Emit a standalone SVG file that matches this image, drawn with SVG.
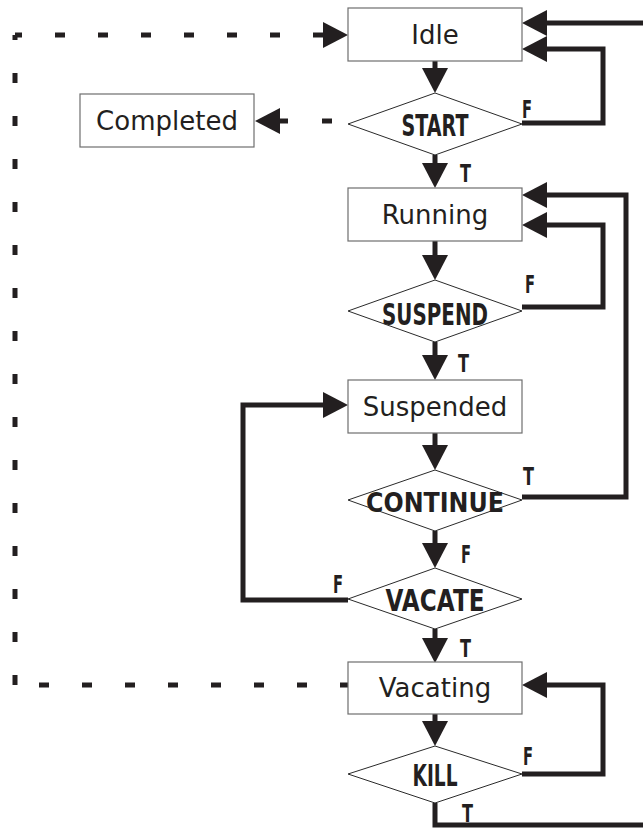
<svg xmlns="http://www.w3.org/2000/svg" width="643" height="828" viewBox="0 0 643 828">
  <style>
    .box rect { fill: #ffffff; stroke: #6e6e6e; stroke-width: 1.2; }
    .dec polygon { fill: #ffffff; stroke: #2a2a2a; stroke-width: 1; }
    .name { font-family: "DejaVu Sans", "Liberation Sans", sans-serif; font-size: 26px; text-anchor: middle; fill: #231f20; }
    .cond { font-family: "DejaVu Sans", "Liberation Sans", sans-serif; font-weight: bold; font-size: 30px; text-anchor: middle; fill: #231f20; }
    .tf { font-family: "DejaVu Sans", "Liberation Sans", sans-serif; font-weight: bold; font-size: 25px; fill: #231f20; }
    .flow { fill: none; stroke: #231f20; stroke-width: 5; stroke-linejoin: miter; }
    .flow.arrow { marker-end: url(#head); }
    .dash { stroke-dasharray: 10 33; }
  </style>
  <defs>
    <marker id="head" markerUnits="userSpaceOnUse" markerWidth="26" markerHeight="26" refX="0" refY="13" orient="auto" overflow="visible">
      <path d="M0,0 L25,13 L0,26 Z" fill="#231f20"/>
    </marker>
  </defs>

  <!-- connectors -->
  <g id="connectors">
    <!-- main downward flow -->
    <path class="flow arrow" d="M435,61 V68"/>
    <path class="flow arrow" d="M435,155 V163"/>
    <path class="flow arrow" d="M435,241 V255"/>
    <path class="flow arrow" d="M435,342 V355"/>
    <path class="flow arrow" d="M435,433 V445"/>
    <path class="flow arrow" d="M435,531 V543"/>
    <path class="flow arrow" d="M435,629 V638"/>
    <path class="flow arrow" d="M435,714 V721"/>
    <!-- loops back -->
    <path class="flow arrow" d="M522,123 H603 V49 H547"/>
    <path class="flow arrow" d="M522,307 H603 V225 H547"/>
    <path class="flow arrow" d="M522,497 H626 V195 H547"/>
    <path class="flow arrow" d="M348,600 H243 V405 H323"/>
    <path class="flow arrow" d="M522,774 H603 V685 H547"/>
    <path class="flow arrow" d="M435,803 V825 H660 V23 H547"/>
    <!-- dashed: Vacating back to Idle -->
    <line class="flow dash" x1="350" y1="685" x2="15" y2="685"/>
    <line class="flow dash" x1="15" y1="685" x2="15" y2="35"/>
    <line class="flow dash" x1="15" y1="35" x2="313" y2="35" stroke-dashoffset="3"/>
    <path class="flow arrow" d="M313,35 H323"/>
    <!-- dashed: START to Completed -->
    <path class="flow" d="M332,121 H322"/>
    <path class="flow arrow" d="M288,121 H280"/>
  </g>

  <!-- states -->
  <g id="idle" class="box">
    <rect x="348" y="8" width="174" height="53"/>
    <text class="name" x="435" y="44">Idle</text>
  </g>
  <g id="completed" class="box">
    <rect x="80" y="94" width="174" height="53"/>
    <text class="name" x="167" y="130">Completed</text>
  </g>
  <g id="running" class="box">
    <rect x="348" y="188" width="174" height="53"/>
    <text class="name" x="435" y="224">Running</text>
  </g>
  <g id="suspended" class="box">
    <rect x="348" y="380" width="174" height="53"/>
    <text class="name" x="435" y="416">Suspended</text>
  </g>
  <g id="vacating" class="box">
    <rect x="348" y="662" width="174" height="52"/>
    <text class="name" x="435" y="697">Vacating</text>
  </g>

  <!-- decisions -->
  <g id="start" class="dec">
    <polygon points="348,124 435,93 522,124 435,155"/>
    <text class="cond" x="435" y="136" textLength="67" lengthAdjust="spacingAndGlyphs">START</text>
    <text class="tf" x="522" y="118" textLength="10" lengthAdjust="spacingAndGlyphs">F</text>
    <text class="tf" x="460" y="182" textLength="11" lengthAdjust="spacingAndGlyphs">T</text>
  </g>
  <g id="suspend" class="dec">
    <polygon points="348,311 435,280 522,311 435,342"/>
    <text class="cond" x="435" y="325" textLength="106" lengthAdjust="spacingAndGlyphs">SUSPEND</text>
    <text class="tf" x="525" y="293" textLength="10" lengthAdjust="spacingAndGlyphs">F</text>
    <text class="tf" x="458" y="372" textLength="11" lengthAdjust="spacingAndGlyphs">T</text>
  </g>
  <g id="continue" class="dec">
    <polygon points="348,500 435,470 522,500 435,531"/>
    <text class="cond" x="435" y="512" style="font-size:27px" textLength="138" lengthAdjust="spacingAndGlyphs">CONTINUE</text>
    <text class="tf" x="523" y="485" textLength="11" lengthAdjust="spacingAndGlyphs">T</text>
    <text class="tf" x="461" y="563" textLength="10" lengthAdjust="spacingAndGlyphs">F</text>
  </g>
  <g id="vacate" class="dec">
    <polygon points="348,599 435,568 522,599 435,629"/>
    <text class="cond" x="435" y="611" textLength="99" lengthAdjust="spacingAndGlyphs">VACATE</text>
    <text class="tf" x="333" y="593" textLength="10" lengthAdjust="spacingAndGlyphs">F</text>
    <text class="tf" x="460" y="657" textLength="11" lengthAdjust="spacingAndGlyphs">T</text>
  </g>
  <g id="kill" class="dec">
    <polygon points="348,774 435,746 522,774 435,803"/>
    <text class="cond" x="435" y="786" textLength="45" lengthAdjust="spacingAndGlyphs">KILL</text>
    <text class="tf" x="523" y="765" textLength="10" lengthAdjust="spacingAndGlyphs">F</text>
    <text class="tf" x="462" y="822" textLength="11" lengthAdjust="spacingAndGlyphs">T</text>
  </g>
</svg>
